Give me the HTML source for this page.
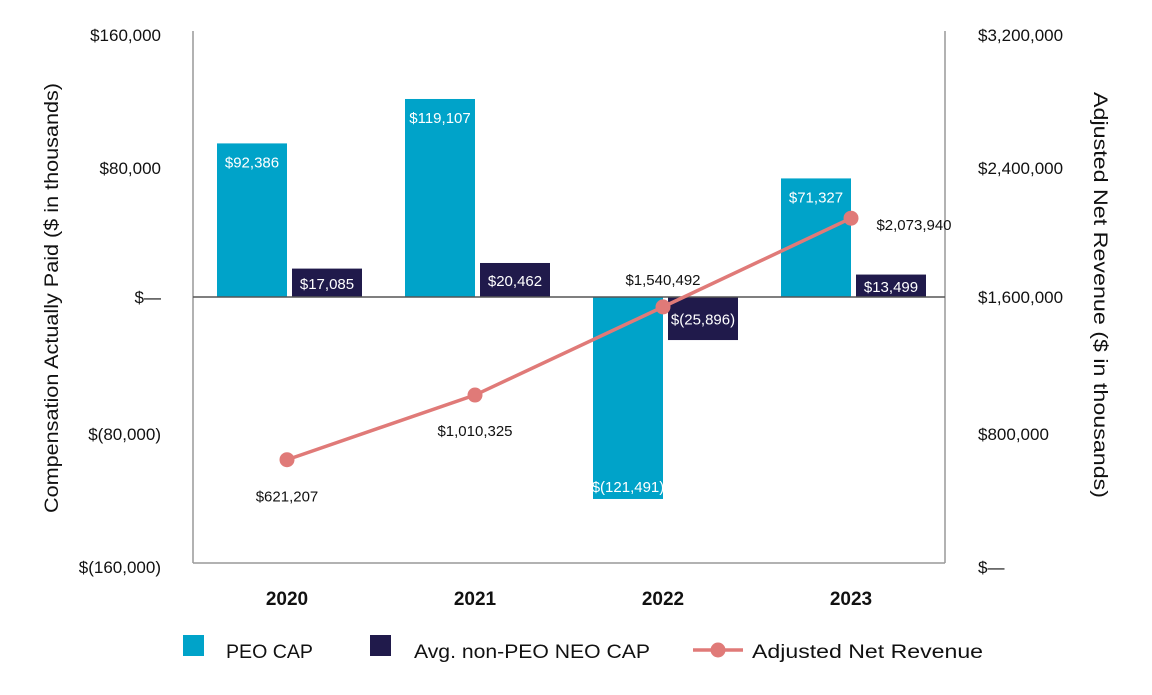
<!DOCTYPE html>
<html><head><meta charset="utf-8"><style>
body{margin:0;background:#fff;}
svg text{font-family:"Liberation Sans",sans-serif;}
</style></head><body>
<svg id="chart" width="1152" height="690" viewBox="0 0 1152 690" xmlns="http://www.w3.org/2000/svg">
<g id="axes"></g>
<g id="marks"></g>
<g id="legend"></g>
</svg>
<script>
const categories = ["2020","2021","2022","2023"];
const peoCap = [92386, 119107, -121491, 71327];
const neoCap = [17085, 20462, -25896, 13499];
const revenue = [621207, 1010325, 1540492, 2073940];
const leftTicks = [160000, 80000, 0, -80000, -160000];
const leftTickLabels = ["$160,000","$80,000","$—","$(80,000)","$(160,000)"];
const rightTicks = [3200000, 2400000, 1600000, 800000, 0];
const rightTickLabels = ["$3,200,000","$2,400,000","$1,600,000","$800,000","$—"];
const peoLabels = ["$92,386","$119,107","$(121,491)","$71,327"];
const neoLabels = ["$17,085","$20,462","$(25,896)","$13,499"];
const revLabels = ["$621,207","$1,010,325","$1,540,492","$2,073,940"];

const NS="http://www.w3.org/2000/svg";
const X0=193,X1=945,TOP=31,BOT=563;
const yL=v=>297 - v/80000*133;
const yR=v=>BOT - v/3200000*(BOT-TOP);
const band=(X1-X0)/categories.length;
const cx=i=>X0+band*(i+0.5);
function mk(tag,attrs,parent,text){const e=document.createElementNS(NS,tag);for(const k in attrs)e.setAttribute(k,attrs[k]);if(text!==undefined)e.textContent=text;parent.appendChild(e);return e;}
const axes=document.getElementById('axes'),marks=document.getElementById('marks'),legend=document.getElementById('legend');

let e;
e=mk('line',{x1:X0,x2:X0,y1:TOP,y2:BOT,stroke:'#999','stroke-width':1.5},axes);

e=mk('line',{x1:X1,x2:X1,y1:TOP,y2:BOT,stroke:'#999','stroke-width':1.5},axes);

e=mk('line',{x1:X0,x2:X1,y1:BOT,y2:BOT,stroke:'#999','stroke-width':1.5},axes);

leftTicks.forEach((v,i)=>{e=mk('text',{x:161,y:yL(v)+(v===0?6:10),'text-anchor':'end','font-size':17,fill:'#111'},axes,leftTickLabels[i]);
});
rightTicks.forEach((v,i)=>{e=mk('text',{x:978,y:yR(v)+(i===2?6:10),'font-size':17,fill:'#111'},axes,rightTickLabels[i]);
});
categories.forEach((c,i)=>{e=mk('text',{x:cx(i),y:605,'text-anchor':'middle','font-size':19,'font-weight':'bold',fill:'#111'},axes,c);
});
e=mk('text',{transform:'translate(58,298) rotate(-90)','text-anchor':'middle','font-size':19,fill:'#111',textLength:430,lengthAdjust:'spacingAndGlyphs'},axes,'Compensation Actually Paid ($ in thousands)');

e=mk('text',{transform:'translate(1094,295) rotate(90)','text-anchor':'middle','font-size':19,fill:'#111',textLength:406,lengthAdjust:'spacingAndGlyphs'},axes,'Adjusted Net Revenue ($ in thousands)');


categories.forEach((c,i)=>{
  const x=cx(i);
  let y0=yL(0),y1=yL(peoCap[i]);
  e=mk('rect',{x:x-70,y:Math.min(y0,y1),width:70,height:Math.abs(y1-y0),fill:'#00a3c9'},marks);
  
  const ty=peoCap[i]>=0?y1+24:y1-7;
  e=mk('text',{x:x-35,y:ty,'text-anchor':'middle','font-size':15,fill:'#fff'},marks,peoLabels[i]);
  
  y1=yL(neoCap[i]);
  e=mk('rect',{x:x+5,y:Math.min(y0,y1),width:70,height:Math.abs(y1-y0),fill:'#201a4b'},marks);
  
  e=mk('text',{x:x+40,y:(y0+y1)/2+6,'text-anchor':'middle','font-size':15,fill:'#fff'},marks,neoLabels[i]);
  
});
e=mk('line',{x1:X0,x2:X1,y1:yL(0),y2:yL(0),stroke:'#555','stroke-width':1.5},marks);

e=mk('polyline',{points:revenue.map((v,i)=>cx(i)+','+yR(v)).join(' '),fill:'none',stroke:'#e07a78','stroke-width':3.5},marks);

revenue.forEach((v,i)=>{
  e=mk('circle',{cx:cx(i),cy:yR(v),r:7.5,fill:'#e07a78'},marks);
  
  let lx=cx(i),ly=yR(v);
  if(i===0){ly+=42;}else if(i===1){ly+=41;}else if(i===2){ly-=22;}else{lx+=63;ly+=12;}
  e=mk('text',{x:lx,y:ly,'text-anchor':'middle','font-size':15,fill:'#111'},marks,revLabels[i]);
  
});

e=mk('rect',{x:183,y:635,width:21,height:21,fill:'#00a3c9'},legend);

e=mk('text',{x:226,y:658,'font-size':19,fill:'#111',textLength:87,lengthAdjust:'spacingAndGlyphs'},legend,'PEO CAP');

e=mk('rect',{x:370,y:635,width:21,height:21,fill:'#201a4b'},legend);

e=mk('text',{x:414,y:658,'font-size':19,fill:'#111',textLength:236,lengthAdjust:'spacingAndGlyphs'},legend,'Avg. non-PEO NEO CAP');

e=mk('line',{x1:693,x2:743,y1:650,y2:650,stroke:'#e07a78','stroke-width':3.5},legend);

e=mk('circle',{cx:718,cy:650,r:7.5,fill:'#e07a78'},legend);

e=mk('text',{x:752,y:658,'font-size':19,fill:'#111',textLength:231,lengthAdjust:'spacingAndGlyphs'},legend,'Adjusted Net Revenue');

</script>
</body></html>
